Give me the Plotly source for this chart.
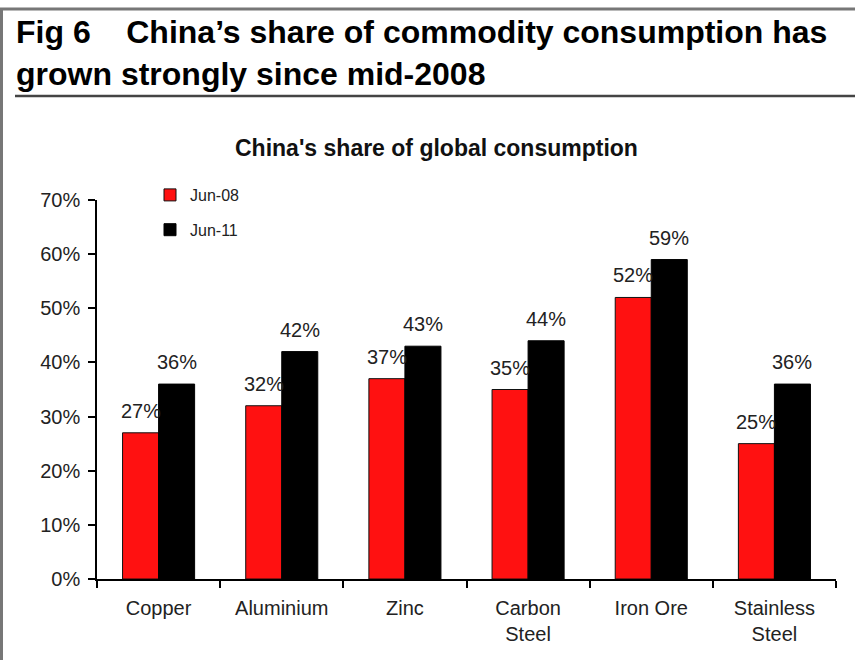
import plotly.graph_objects as go

# Chart data
categories = ["Copper", "Aluminium", "Zinc", "Carbon<br>Steel", "Iron Ore", "Stainless<br>Steel"]
jun08 = [27, 32, 37, 35, 52, 25]
jun11 = [36, 42, 43, 44, 59, 36]
series_names = ["Jun-08", "Jun-11"]
y_ticks = [0, 10, 20, 30, 40, 50, 60, 70]

W, H = 855, 660
ML, MR, MT, MB = 97, 19, 200, 81
PW, PH = W - ML - MR, H - MT - MB


def px(xp):
    return (xp - ML) / PW


def py(yp):
    return (H - MB - yp) / PH


FONT = "Liberation Sans, Arial, sans-serif"

fig = go.Figure()
fig.add_trace(go.Bar(x=categories, y=jun08, name=series_names[0], legendgroup="a",
                     marker=dict(color="#ff1111", line=dict(color="#111111", width=1))))
fig.add_trace(go.Bar(x=categories, y=jun11, name=series_names[1], legendgroup="b",
                     marker=dict(color="#000000", line=dict(color="#000000", width=1))))

annotations = []
# value labels above each bar
for vals, shift in ((jun08, -18), (jun11, 18)):
    for c, v in zip(categories, vals):
        annotations.append(dict(x=c, y=v, xref="x", yref="y", text=f"{v}%", showarrow=False,
                                xshift=shift, yshift=9, yanchor="bottom",
                                font=dict(family=FONT, size=20, color="#222222")))

# figure heading
annotations.append(dict(xref="paper", yref="paper", x=px(14), y=py(12), xanchor="left", yanchor="top",
                        align="left", showarrow=False,
                        text="<b>Fig 6\u00a0\u00a0\u00a0\u00a0China\u2019s share of commodity consumption has<br>grown strongly since mid-2008</b>",
                        font=dict(family=FONT, size=32, color="#000000")))
# chart title
annotations.append(dict(xref="paper", yref="paper", x=px(436), y=py(148), xanchor="center", yanchor="middle",
                        showarrow=False, text="<b>China's share of global consumption</b>",
                        font=dict(family=FONT, size=23, color="#111111")))

shapes = [
    dict(type="line", xref="paper", yref="paper", x0=px(0), x1=px(W), y0=py(9), y1=py(9),
         line=dict(color="#777777", width=3)),
    dict(type="line", xref="paper", yref="paper", x0=px(1.5), x1=px(1.5), y0=py(9), y1=py(H),
         line=dict(color="#777777", width=3)),
    dict(type="line", xref="paper", yref="paper", x0=px(15), x1=px(W), y0=py(96), y1=py(96),
         line=dict(color="#444444", width=2.5)),
]

fig.update_layout(
    width=W, height=H,
    margin=dict(l=ML, r=MR, t=MT, b=MB, pad=0),
    paper_bgcolor="white", plot_bgcolor="white",
    barmode="group", bargap=0.415, bargroupgap=0,
    font=dict(family=FONT, size=20, color="#222222"),
    showlegend=True,
    legend=dict(x=px(150), y=py(178), xanchor="left", yanchor="top", bgcolor="rgba(0,0,0,0)",
                font=dict(family=FONT, size=16, color="#222222"), itemwidth=30,
                traceorder="grouped", tracegroupgap=11),
    xaxis=dict(type="category", range=[-0.5, 5.5], showline=True, linecolor="#000000", linewidth=1.5,
               ticks="outside", tickson="boundaries", ticklen=7, tickwidth=1.5, tickcolor="#000000",
               showgrid=False, ticklabelstandoff=10,
               tickfont=dict(family=FONT, size=20, color="#222222")),
    yaxis=dict(range=[0, 70], tickvals=y_ticks, ticktext=[f"{t}%" for t in y_ticks],
               showline=True, linecolor="#000000", linewidth=1.5, ticks="outside", ticklen=7,
               tickwidth=1.5, tickcolor="#000000", showgrid=False, zeroline=False,
               ticklabelstandoff=4,
               tickfont=dict(family=FONT, size=20, color="#222222")),
    annotations=annotations,
    shapes=shapes,
)

fig.write_html("out.html")
